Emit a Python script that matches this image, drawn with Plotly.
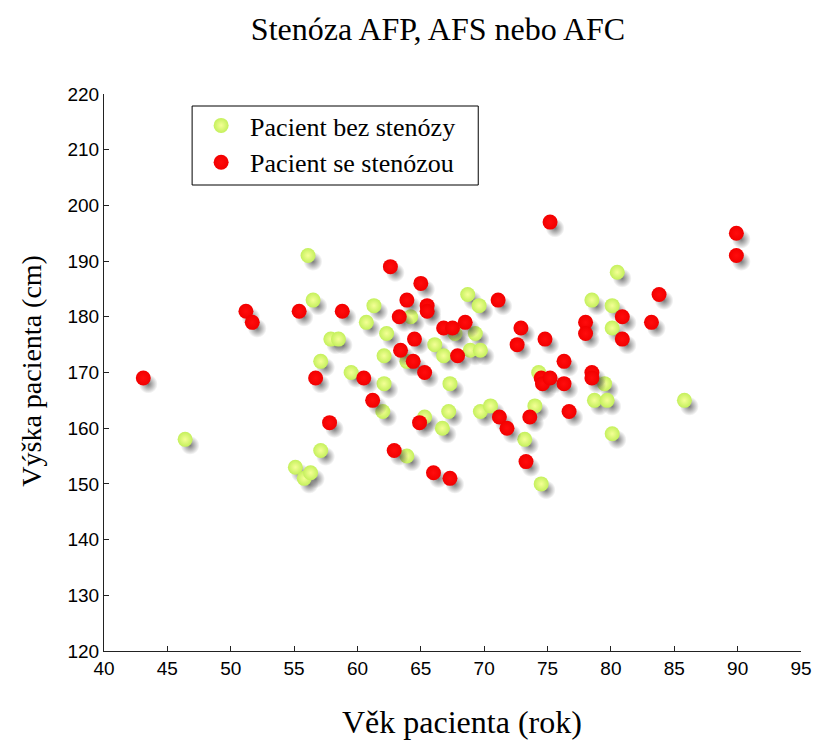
import plotly.graph_objects as go

# ---- data ----
age_no_stenosis = [46.4, 56.1, 56.5, 57.9, 58.5, 57.1, 59.5, 57.1, 55.1, 55.8,
                   56.3, 68.7, 61.3, 69.6, 60.7, 64.2, 62.3, 67.7, 69.3, 66.1,
                   62.1, 66.8, 68.9, 69.7, 63.9, 62.1, 67.3, 74.3, 62.0, 65.3,
                   67.2, 66.7, 69.7, 70.5, 74.0, 73.2, 63.9, 74.5, 80.5, 78.5,
                   80.1, 80.1, 79.5, 78.7, 79.7, 85.8, 80.1]
height_no_stenosis = [158, 191, 183, 176, 176, 172, 170, 156, 153, 151,
                      152, 184, 182, 182, 179, 180, 177, 177, 177, 175,
                      173, 173, 174, 174, 172, 168, 168, 170, 163, 162,
                      163, 160, 163, 164, 164, 158, 155, 150, 188, 183,
                      182, 178, 168, 165, 165, 165, 159]

age_stenosis = [43.1, 51.2, 51.7, 55.4, 58.8, 56.7, 57.8, 75.2, 62.6, 65.0,
                63.9, 65.5, 65.5, 71.1, 63.3, 66.8, 67.5, 68.5, 72.9, 72.6,
                74.8, 64.5, 63.4, 67.9, 64.4, 65.3, 76.3, 60.5, 74.5, 74.6,
                75.2, 76.3, 61.2, 64.9, 71.2, 71.8, 73.6, 76.7, 62.9, 73.3,
                66.0, 67.3, 89.9, 89.9, 83.8, 80.9, 83.2, 78.0, 78.0, 80.9,
                78.5, 78.5]
height_stenosis = [169, 181, 179, 181, 181, 169, 161, 197, 189, 186,
                   183, 182, 181, 183, 180, 178, 178, 179, 178, 175,
                   176, 176, 174, 173, 172, 170, 172, 169, 169, 168,
                   169, 168, 165, 161, 162, 160, 162, 163, 156, 154,
                   152, 151, 195, 191, 184, 180, 179, 179, 177, 176,
                   170, 169]

x_tick_values = list(range(40, 96, 5))
y_tick_values = list(range(120, 221, 10))

title_text = "Stenóza AFP, AFS nebo AFC"
x_title = "Věk pacienta (rok)"
y_title = "Výška pacienta (cm)"
name_no = "Pacient bez stenózy"
name_yes = "Pacient se stenózou"

# ---- layout geometry ----
W, H = 824, 746
ML, MR, MT, MB = 104, 16, 94, 95
PW = W - ML - MR
PH = H - MT - MB
X_RANGE = [40, 95]
Y_RANGE = [120, 220]


def px_x(p):
    return (p - ML) / PW


def px_y(p):
    return (H - MB - p) / PH


# shadow offset in pixels -> shifted axis ranges
SH_DX, SH_DY = 5, 6
sx = SH_DX * (X_RANGE[1] - X_RANGE[0]) / PW
sy = SH_DY * (Y_RANGE[1] - Y_RANGE[0]) / PH
X_SH = [X_RANGE[0] - sx, X_RANGE[1] - sx]
Y_SH = [Y_RANGE[0] + sy, Y_RANGE[1] + sy]

SERIF = "Liberation Serif, Times New Roman, serif"
SANS = "Liberation Sans, Arial, sans-serif"

MS = 15
# for radial gradients plotly uses gradient.color as the CENTER colour
shadow_marker = dict(size=MS + 4, color="rgba(80,80,80,0)",
                     gradient=dict(type="radial", color="rgba(80,80,80,0.75)"),
                     line=dict(width=0))

fig = go.Figure()
fig.add_trace(go.Scatter(x=age_no_stenosis, y=height_no_stenosis, mode="markers",
                         xaxis="x", yaxis="y", marker=shadow_marker,
                         showlegend=False, hoverinfo="skip"))
fig.add_trace(go.Scatter(x=age_no_stenosis, y=height_no_stenosis, mode="markers",
                         xaxis="x2", yaxis="y2", name=name_no,
                         marker=dict(size=MS, color="#c4f05c",
                                     gradient=dict(type="radial", color="#f4ff96"),
                                     line=dict(width=0))))
fig.add_trace(go.Scatter(x=age_stenosis, y=height_stenosis, mode="markers",
                         xaxis="x3", yaxis="y3", marker=shadow_marker,
                         showlegend=False, hoverinfo="skip"))
fig.add_trace(go.Scatter(x=age_stenosis, y=height_stenosis, mode="markers",
                         xaxis="x4", yaxis="y4", name=name_yes,
                         marker=dict(size=MS, color="#f20000",
                                     gradient=dict(type="radial", color="#ff0c0c"),
                                     line=dict(width=0))))

hidden = dict(visible=False, showgrid=False, zeroline=False, fixedrange=True)
axis_style = dict(showline=True, linecolor="#222", linewidth=1, ticks="inside",
                  ticklen=5, tickwidth=1, tickcolor="#222", showgrid=False,
                  zeroline=False, mirror=False,
                  tickfont=dict(family=SANS, size=19, color="black"))

fig.update_layout(
    width=W, height=H,
    margin=dict(l=ML, r=MR, t=MT, b=MB, pad=0),
    paper_bgcolor="white", plot_bgcolor="white",
    title=dict(text=title_text, x=438 / W, xanchor="center",
               y=1 - 29 / H, yanchor="middle", yref="container",
               font=dict(family=SERIF, size=32, color="black")),
    xaxis=dict(range=X_SH, **hidden),
    yaxis=dict(range=Y_SH, anchor="x", **hidden),
    xaxis2=dict(range=X_RANGE, overlaying="x", anchor="y2", side="bottom",
                tickvals=x_tick_values, **axis_style),
    yaxis2=dict(range=Y_RANGE, overlaying="y", anchor="x2", side="left",
                tickvals=y_tick_values, **axis_style),
    xaxis3=dict(range=X_SH, overlaying="x", anchor="y3", **hidden),
    yaxis3=dict(range=Y_SH, overlaying="y", anchor="x3", **hidden),
    xaxis4=dict(range=X_RANGE, overlaying="x", anchor="y4", **hidden),
    yaxis4=dict(range=Y_RANGE, overlaying="y", anchor="x4", **hidden),
    legend=dict(x=px_x(193), y=px_y(102), xanchor="left",
                yanchor="top", bgcolor="rgba(0,0,0,0)", borderwidth=0,
                font=dict(family=SERIF, size=26, color="black"),
                itemsizing="trace", itemwidth=48),
    showlegend=True,
    shapes=[
        dict(type="rect", xref="paper", yref="paper",
             x0=px_x(193), x1=px_x(482), y0=px_y(185), y1=px_y(106),
             line=dict(color="black", width=1), fillcolor="white",
             layer="below"),
    ],
    annotations=[
        dict(text=x_title, xref="paper", yref="paper", x=px_x(466),
             y=px_y(722), xanchor="center", yanchor="middle",
             showarrow=False, font=dict(family=SERIF, size=32, color="black")),
        dict(text=y_title, xref="paper", yref="paper", x=px_x(30),
             y=px_y(371), xanchor="center", yanchor="middle",
             textangle=-90, showarrow=False,
             font=dict(family=SERIF, size=28, color="black")),
    ],
)

fig.write_html("out.html")
